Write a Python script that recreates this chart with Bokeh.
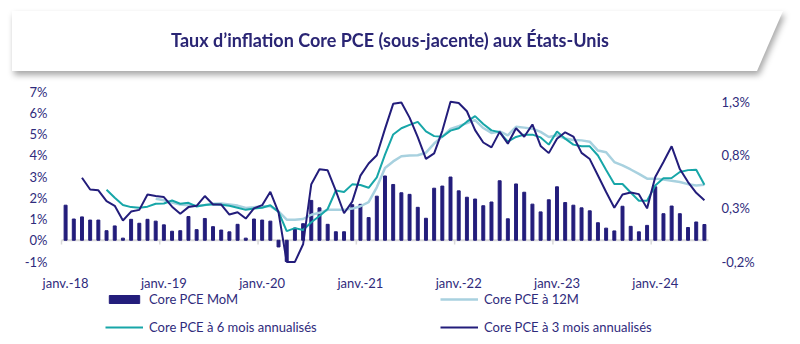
from bokeh.plotting import figure
from bokeh.models import (Range1d, Legend, LegendItem, ColumnDataSource, Div)
from bokeh.layouts import column
from bokeh.embed import file_html
from bokeh.resources import INLINE
from bokeh.core.properties import value

nan = float("nan")

# Monthly data, Jan 2018 .. Jul 2024 (79 months)
month_idx = list(range(79))
year_labels = ["janv.-18", "janv.-19", "janv.-20", "janv.-21", "janv.-22", "janv.-23", "janv.-24"]
left_ticks = [-1, 0, 1, 2, 3, 4, 5, 6, 7]
right_ticks = [-0.2, 0.3, 0.8, 1.3]
title_text = "Taux d\u2019inflation Core PCE (sous-jacente) aux \u00c9tats-Unis"

core_pce_mom = [
    0.33, 0.20, 0.22, 0.19, 0.19, 0.09, 0.135, 0.02, 0.197, 0.16, 0.197, 0.18,
    0.145, 0.085, 0.09, 0.223, 0.10, 0.205, 0.128, 0.096, 0.079, 0.15, 0.02, 0.20,
    0.19, 0.18, -0.063, -0.20, 0.115, 0.156, 0.375, 0.305, 0.15, 0.08, 0.08, 0.335,
    0.338, 0.213, 0.415, 0.605, 0.525, 0.447, 0.432, 0.31, 0.207, 0.49, 0.51, 0.595,
    0.465, 0.405, 0.388, 0.325, 0.36, 0.56, 0.202, 0.53, 0.452, 0.34, 0.267, 0.381,
    0.503, 0.355, 0.33, 0.305, 0.277, 0.165, 0.114, 0.088, 0.32, 0.131, 0.079, 0.14,
    0.503, 0.25, 0.322, 0.25, 0.12, 0.172, 0.148,
]

core_pce_12m = [
    nan, nan, nan, nan, nan, nan, nan, nan, nan, nan, nan, 1.95,
    1.88, 1.78, 1.68, 1.65, 1.62, 1.66, 1.72, 1.73, 1.68, 1.63, 1.52, 1.55,
    1.60, 1.60, 1.36, 0.97, 0.96, 1.00, 1.20, 1.29, 1.43, 1.43, 1.43, 1.49,
    1.60, 1.79, 2.49, 3.40, 3.71, 3.95, 3.99, 4.00, 4.12, 4.55, 4.88, 5.24,
    5.37, 5.51, 5.65, 5.28, 5.05, 5.12, 4.94, 5.34, 5.30, 5.25, 5.10, 4.86,
    4.94, 4.79, 4.72, 4.70, 4.64, 4.22, 4.14, 3.68, 3.52, 3.33, 3.12, 2.90,
    2.90, 2.86, 2.80, 2.74, 2.64, 2.58, 2.61,
]

core_pce_6m_ann = [
    nan, nan, nan, nan, nan, 2.38, 2.00, 1.66, 1.56, 1.53, 1.58, 1.72,
    1.73, 1.87, 1.72, 1.76, 1.59, 1.66, 1.69, 1.67, 1.62, 1.53, 1.43, 1.49,
    1.53, 1.65, 1.33, 0.43, 0.57, 0.48, 0.85, 1.14, 1.47, 2.34, 2.27, 2.63,
    2.60, 2.47, 2.96, 4.03, 4.98, 5.27, 5.43, 5.57, 5.12, 4.90, 4.87, 5.16,
    5.27, 5.58, 5.84, 5.47, 5.17, 5.08, 4.64, 4.86, 4.97, 4.97, 4.84, 4.50,
    5.12, 4.78, 4.50, 4.42, 4.42, 3.99, 3.31, 2.65, 2.65, 2.25, 1.86, 1.86,
    2.58, 2.92, 2.93, 3.21, 3.30, 3.32, 2.61,
]

core_pce_3m_ann = [
    nan, nan, 2.94, 2.39, 2.35, 1.84, 1.62, 0.93, 1.35, 1.43, 2.15, 2.08,
    2.03, 1.58, 1.25, 1.56, 1.62, 2.08, 1.68, 1.68, 1.21, 1.32, 1.02, 1.50,
    1.65, 2.28, 1.31, -1.02, -1.02, -0.19, 2.64, 3.34, 3.29, 2.32, 1.27, 1.82,
    3.04, 3.61, 4.00, 5.24, 6.42, 6.48, 5.77, 4.85, 3.83, 4.09, 5.15, 6.52,
    6.46, 6.07, 5.18, 4.60, 4.37, 5.10, 4.54, 5.27, 4.87, 5.45, 4.44, 4.10,
    4.78, 5.08, 4.88, 4.11, 3.82, 3.05, 2.27, 1.53, 2.15, 2.25, 2.17, 1.50,
    2.98, 3.68, 4.42, 3.35, 2.74, 2.23, 1.88,
]

NAVY = "#231D7B"
TEAL = "#17A6A8"
LIGHT = "#A8D1DF"
TXT = "#2F2B7C"
FONT = "Lato"

src = ColumnDataSource(dict(x=month_idx, mom=core_pce_mom, m12=core_pce_12m,
                            m6=core_pce_6m_ann, m3=core_pce_3m_ann))

# ---------- header (title box) ----------
header_html = (
    '<div style="position:relative;width:800px;height:80px;">'
    '<div style="position:absolute;left:12px;top:11px;width:771px;height:60px;'
    'filter:drop-shadow(2px 4px 3px rgba(0,0,0,0.35));">'
    '<div style="width:100%;height:100%;background:#ffffff;'
    'clip-path:polygon(0 0,100% 0,calc(100% - 26px) 100%,0 100%);'
    'display:flex;align-items:center;justify-content:center;box-sizing:border-box;padding-right:15px;">'
    '<span style="font-family:Lato;font-weight:bold;font-size:18px;color:#2A2574;white-space:nowrap;">'
    + title_text +
    '</span></div></div></div>'
)
h = Div(text=header_html, width=800, height=80, margin=(0, 0, 0, 0))

# ---------- main chart ----------
# The frame covers the whole 800x264 figure; the plot area (-0.5..78.5, -1%..7%)
# sits at x 61..708 and y 91..261 (page pixels), labels are drawn around it.
FIG_W, FIG_H, FIG_TOP = 800, 264, 80
AREA_L, AREA_R = 61, 708
ZERO_Y = 239.75
PX_M = (AREA_R - AREA_L) / len(month_idx)
PX_PCT = 170 / 8.0
x0 = -0.5 - AREA_L / PX_M
x1 = 78.5 + (FIG_W - AREA_R) / PX_M
y1 = (ZERO_Y - FIG_TOP) / PX_PCT
y0 = -(FIG_TOP + FIG_H - ZERO_Y) / PX_PCT
RSCALE = 0.2  # right axis (MoM) = left axis * 0.2

p = figure(width=FIG_W, height=FIG_H, x_range=Range1d(x0, x1), y_range=Range1d(y0, y1),
           output_backend="svg", toolbar_location=None, min_border=0)
p.extra_y_ranges = {"mom": Range1d(y0 * RSCALE, y1 * RSCALE)}
p.axis.visible = False
p.grid.visible = False
p.outline_line_color = None
p.background_fill_color = None
p.border_fill_color = None

# zero line + year tick marks
p.segment(x0=[-0.5], y0=[0], x1=[78.5], y1=[0], line_color="#D9D9D9", line_width=2)
year_starts = [m for m in month_idx if m % 12 == 0]
bounds = [m - 0.5 for m in year_starts]
p.segment(x0=bounds, y0=[0] * len(bounds), x1=bounds, y1=[-0.2] * len(bounds),
          line_color="#D9D9D9", line_width=1.5)

bars = p.vbar(x="x", top="mom", width=0.36, color=NAVY, y_range_name="mom", source=src)
l12 = p.line(x="x", y="m12", color=LIGHT, line_width=2.5, source=src)
l6 = p.line(x="x", y="m6", color=TEAL, line_width=2, source=src)
l3 = p.line(x="x", y="m3", color=NAVY, line_width=2, source=src)

# x labels under the -1% line
label_y = -1 - 21.0 / PX_PCT
p.text(x=year_starts, y=[label_y] * len(year_starts), text=year_labels,
       text_align="center", text_baseline="middle", text_font=value(FONT),
       text_font_size="13px", text_color=TXT)

# left axis labels
p.text(x=[-0.5 - 14 / PX_M] * len(left_ticks), y=left_ticks,
       text=[f"{t}%" for t in left_ticks],
       text_align="right", text_baseline="middle", text_font=value(FONT),
       text_font_size="13px", text_color=TXT)

# right axis labels (MoM scale)
p.text(x=[78.5 + 13 / PX_M] * len(right_ticks), y=right_ticks,
       text=[f"{t:.1f}".replace(".", ",") + "%" for t in right_ticks],
       y_range_name="mom",
       text_align="left", text_baseline="middle", text_font=value(FONT),
       text_font_size="13px", text_color=TXT)


def mk_legend(items, yoff):
    return Legend(items=items, orientation="horizontal", location=(105, yoff),
                  glyph_width=38, glyph_height=10, label_standoff=6, label_width=281,
                  spacing=10, padding=0, margin=0, label_height=20,
                  border_line_color=None, background_fill_alpha=0,
                  label_text_font=FONT, label_text_font_size="13px", label_text_color=TXT)


leg1 = mk_legend([LegendItem(label="Core PCE MoM", renderers=[bars]),
                  LegendItem(label="Core PCE \u00e0 12M", renderers=[l12])], 35)
leg2 = mk_legend([LegendItem(label="Core PCE \u00e0 6 mois annualis\u00e9s", renderers=[l6]),
                  LegendItem(label="Core PCE \u00e0 3 mois annualis\u00e9s", renderers=[l3])], 7)
p.add_layout(leg1)
p.add_layout(leg2)

layout = column(h, p, spacing=0)
open("out.html", "w").write(file_html(layout, INLINE))
